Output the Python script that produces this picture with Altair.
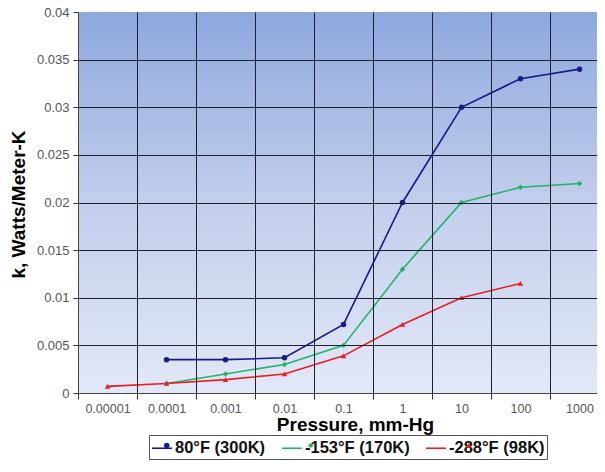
import altair as alt
import pandas as pd

pressures = ["0.00001", "0.0001", "0.001", "0.01", "0.1", "1", "10", "100", "1000"]
series_names = ["80°F (300K)", "-153°F (170K)", "-288°F (98K)"]
k_80F = [None, 0.0035, 0.0035, 0.0037, 0.0072, 0.020, 0.030, 0.033, 0.034]
k_m153F = [None, 0.001, 0.002, 0.003, 0.005, 0.013, 0.020, 0.0216, 0.022]
k_m288F = [0.0007, 0.001, 0.0014, 0.002, 0.0039, 0.0072, 0.010, 0.0115, None]
colors = ["#1a1a8a", "#22b46a", "#ea1c24"]
marker_shapes = ["circle", "diamond", "triangle-up"]
y_ticks = [0, 0.005, 0.01, 0.015, 0.02, 0.025, 0.03, 0.035, 0.04]

rows = []
for name, vals in zip(series_names, [k_80F, k_m153F, k_m288F]):
    for p, v in zip(pressures, vals):
        if v is not None:
            rows.append({"pressure": p, "k": v, "series": name})
df = pd.DataFrame(rows)

FONT = "Liberation Sans"
PLOT_W = 519
BAND_RANGE = 531
PLOT_H = 381
LEG_X = 71
LEG_Y = 423
LEG_FONT = 16.5

x_enc = alt.X(
    "pressure:N",
    sort=pressures,
    scale=alt.Scale(domain=pressures, range=[0, BAND_RANGE], paddingInner=0, paddingOuter=0),
    axis=alt.Axis(
        title="Pressure, mm-Hg",
        labelAngle=0,
        tickBand="extent",
        grid=True,
        tickSize=6,
        labelPadding=3,
        labelFontSize=12.5,
        titleX=277,
        titleY=37,
        titleAnchor="middle",
        titleAlign="center",
        titleBaseline="alphabetic",
        zindex=1,
    ),
)
y_enc = alt.Y(
    "k:Q",
    scale=alt.Scale(domain=[0, 0.04], nice=False),
    axis=alt.Axis(
        title="k, Watts/Meter-K",
        values=y_ticks,
        format="~g",
        tickSize=5,
        labelPadding=4,
        labelFontSize=13,
        gridOpacity={"condition": {"test": "datum.value >= 0.04", "value": 0}, "value": 1},
        titleX=-60,
        titleY=192,
        titleAlign="center",
        titleBaseline="middle",
        titleAngle=270,
        zindex=1,
    ),
)

# legend drawn by the lines: stroke symbols + labels + box
line_legend = alt.Legend(
    title=None,
    orient="none",
    legendX=LEG_X,
    legendY=LEG_Y,
    direction="horizontal",
    strokeColor="#555555",
    padding=2,
    columnPadding=12,
    labelOffset=2,
    labelFont=FONT,
    labelFontSize=LEG_FONT,
    labelFontWeight="bold",
    labelColor="#111111",
    symbolType="stroke",
    symbolSize=400,
    symbolStrokeWidth=1.6,
)
# legend drawn by the markers, overlaid on the line legend (labels hidden)
point_legend = alt.Legend(
    title=None,
    orient="none",
    legendX=LEG_X - 1,
    legendY=LEG_Y - 1,
    direction="horizontal",
    padding=3,
    columnPadding=12,
    labelOffset=17,
    symbolOffset=7.5,
    labelFont=FONT,
    labelFontSize=LEG_FONT,
    labelFontWeight="bold",
    labelOpacity=0,
    symbolSize=30,
    symbolStrokeWidth=0,
)

base = alt.Chart(df)

background = base.transform_filter(
    (alt.datum.pressure == "1") & (alt.datum.series == series_names[0])
).mark_rect(
    fill=alt.LinearGradient(
        gradient="linear",
        x1=0, y1=0, x2=0, y2=1,
        stops=[
            alt.GradientStop(offset=0, color="#8ea8dd"),
            alt.GradientStop(offset=0.5, color="#c2ceec"),
            alt.GradientStop(offset=1, color="#e2e8f6"),
        ],
    )
).encode(
    x=alt.value(0), x2=alt.value(BAND_RANGE), y=alt.value(0), y2=alt.value(PLOT_H)
)

lines = base.mark_line(strokeWidth=1.6).encode(
    x=x_enc,
    y=y_enc,
    stroke=alt.Stroke("series:N", sort=series_names, scale=alt.Scale(range=colors), legend=line_legend),
)

points = base.mark_point(filled=True, opacity=1, size=30).encode(
    x=x_enc,
    y=y_enc,
    color=alt.Color("series:N", scale=alt.Scale(domain=series_names, range=colors), legend=point_legend),
    shape=alt.Shape("series:N", scale=alt.Scale(domain=series_names, range=marker_shapes), legend=point_legend),
)

chart = (
    alt.layer(background, lines, points)
    .properties(
        width=PLOT_W,
        height=PLOT_H,
        autosize=alt.AutoSizeParams(type="none"),
        padding={"left": 70, "top": 4, "right": 0, "bottom": 67},
    )
    .configure_view(stroke=None)
    .configure_axis(
        labelFont=FONT,
        labelColor="#555555",
        titleFont=FONT,
        titleFontSize=19,
        titleFontWeight="bold",
        titleColor="#000000",
        domainColor="#444444",
        tickColor="#333333",
        gridColor="#1c2030",
        gridWidth=1,
    )
)

chart.save("out.html", embed_options={"renderer": "svg", "actions": False})
